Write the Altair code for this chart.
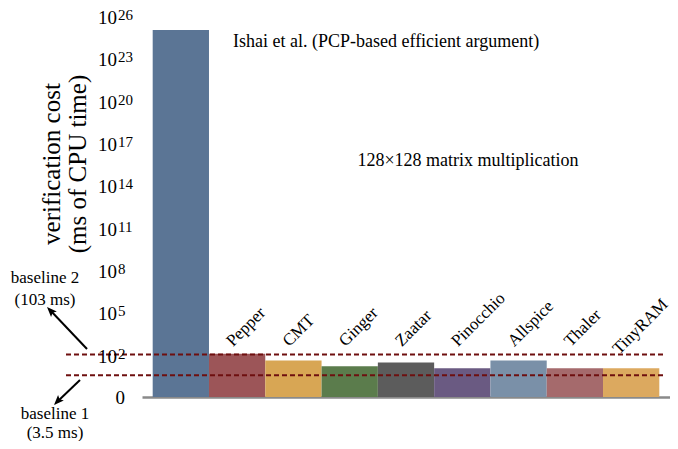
import altair as alt
import pandas as pd

# ---- data ----
categories = ["Ishai", "Pepper", "CMT", "Ginger", "Zaatar", "Pinocchio", "Allspice", "Thaler", "TinyRAM"]
cost_ms = [1e25, 117, 39, 15, 28, 11, 39, 11, 11]
bar_colors = ["#5b7595", "#9c5558", "#d8a654", "#5b7c4c", "#5c5c5c", "#6a5a82", "#7a90a8", "#a56a6c", "#dca95f"]
label_names = categories[1:]
tick_exponents = [2, 5, 8, 11, 14, 17, 20, 23, 26]
baseline_ms = [103, 3.5]

FONT = "Liberation Serif"
DOMAIN = [-1, 26]

bars_df = pd.DataFrame({"category": categories, "cost": cost_ms})
labels_df = pd.DataFrame({"category": label_names})
ticks_df = pd.DataFrame({"e": tick_exponents, "ten": ["10"] * len(tick_exponents),
                         "sup": [str(e) for e in tick_exponents]})
zero_df = pd.DataFrame({"e": [-1], "t": ["0"]})
base_df = pd.DataFrame({"ms": baseline_ms})
one = pd.DataFrame({"k": [0]})

xscale = alt.Scale(domain=categories, paddingInner=0, paddingOuter=0.19)
yscale = alt.Scale(domain=DOMAIN, nice=False, zero=False)

bars = alt.Chart(bars_df).transform_calculate(
    lv="log(datum.cost)/LN10", base="-1"
).mark_bar(opacity=1).encode(
    x=alt.X("category:N", scale=xscale, sort=categories,
            axis=alt.Axis(labels=False, ticks=False, title=None, domainColor="#8a8a8a",
                          domainWidth=2.5, grid=False)),
    y=alt.Y("lv:Q", scale=yscale,
            axis=alt.Axis(values=tick_exponents, labels=False, ticks=False, domain=False,
                          title=None, grid=True, gridColor="#c4c4c4", gridWidth=1.5)),
    y2="base:Q",
    color=alt.Color("category:N", scale=alt.Scale(domain=categories, range=bar_colors), legend=None),
)


def cat_label_layer(dx, keep_last):
    test = "datum.category === 'TinyRAM'" if keep_last else "datum.category !== 'TinyRAM'"
    return alt.Chart(labels_df).transform_filter(test).mark_text(
        font=FONT, fontSize=17, align="left", baseline="alphabetic", angle=315, dx=dx
    ).encode(
        x=alt.X("category:N", scale=xscale, sort=categories),
        y=alt.value(327),
        text="category:N",
    )


cat_labels = cat_label_layer(-6, False)
cat_label_last = cat_label_layer(-17, True)

tick_ten = alt.Chart(ticks_df).mark_text(
    font=FONT, fontSize=19, align="right", baseline="middle", dy=2
).encode(x=alt.value(-25), y=alt.Y("e:Q", scale=yscale, axis=None), text="ten:N")

tick_sup = alt.Chart(ticks_df).mark_text(
    font=FONT, fontSize=15, align="left", baseline="middle", dy=-1
).encode(x=alt.value(-24), y=alt.Y("e:Q", scale=yscale, axis=None), text="sup:N")

tick_zero = alt.Chart(zero_df).mark_text(
    font=FONT, fontSize=19, align="right", baseline="middle", dy=1
).encode(x=alt.value(-17), y=alt.Y("e:Q", scale=yscale, axis=None), text="t:N")

base_rules = alt.Chart(base_df).transform_calculate(
    lv="log(datum.ms)/LN10"
).mark_rule(color="#6e0f0f", strokeWidth=2, strokeDash=[5, 3]).encode(
    y=alt.Y("lv:Q", scale=yscale, axis=None),
    x=alt.value(-76), x2=alt.value(523),
)


def txt(s, x, y, size=18, align="center", baseline="middle", angle=0):
    kw = dict(font=FONT, fontSize=size, align=align, baseline=baseline)
    if angle:
        kw["angle"] = angle
    return alt.Chart(one).mark_text(**kw).encode(
        x=alt.value(x), y=alt.value(y), text=alt.value(s))


ytitle1 = txt("verification cost", -82, 148, size=25, baseline="alphabetic", angle=270)
ytitle2 = txt("(ms of CPU time)", -56, 148, size=25, baseline="alphabetic", angle=270)

ishai_txt = txt("Ishai et al. (PCP-based efficient argument)", 91, 26, align="left")
mm_txt = txt("128×128 matrix multiplication", 326, 145)

b2a = txt("baseline 2", -97, 262, size=17)
b2b = txt("(103 ms)", -97, 284, size=17)
b1a = txt("baseline 1", -87, 398, size=17)
b1b = txt("(3.5 ms)", -87, 417, size=17)

arrow2_line = alt.Chart(one).mark_rule(color="black", strokeWidth=2).encode(
    x=alt.value(-55), y=alt.value(333), x2=alt.value(-92), y2=alt.value(294))
arrow1_line = alt.Chart(one).mark_rule(color="black", strokeWidth=2).encode(
    x=alt.value(-62), y=alt.value(364), x2=alt.value(-85), y2=alt.value(386))

HEAD = "M0,0L-0.8,2L0,1.6L0.8,2Z"
arrow2_head = alt.Chart(one).mark_point(
    shape=HEAD, filled=True, color="black", opacity=1, size=100, angle=316, strokeWidth=0
).encode(x=alt.value(-95), y=alt.value(291))
arrow1_head = alt.Chart(one).mark_point(
    shape=HEAD, filled=True, color="black", opacity=1, size=100, angle=224, strokeWidth=0
).encode(x=alt.value(-88), y=alt.value(389))

chart = alt.layer(
    bars, base_rules, cat_labels, cat_label_last, tick_ten, tick_sup, tick_zero, ytitle1, ytitle2,
    ishai_txt, mm_txt, b2a, b2b, b1a, b1b, arrow2_line, arrow1_line, arrow2_head, arrow1_head
).properties(
    width=528, height=381,
    autosize=alt.AutoSizeParams(type="none"),
    padding={"left": 134, "top": 8, "right": 0, "bottom": 44},
    background="white",
).configure_view(stroke=None)

chart.save("out.html", embed_options={"renderer": "svg", "actions": False})
